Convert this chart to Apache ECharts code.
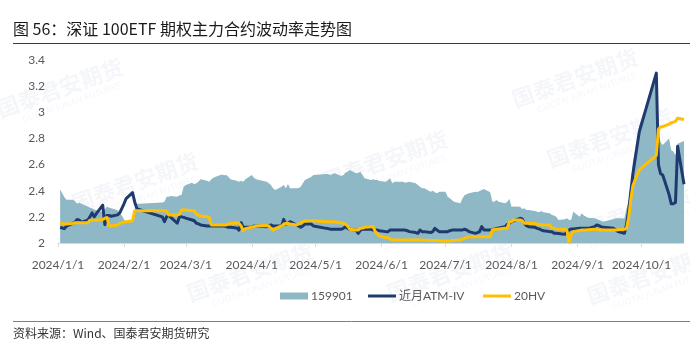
<!DOCTYPE html>
<html>
<head>
<meta charset="utf-8">
<title>深证100ETF期权主力合约波动率走势图</title>
<script src="https://cdn.jsdelivr.net/npm/echarts@6/dist/echarts.min.js"></script>
<style>
  html, body { margin: 0; padding: 0; background: #ffffff; }
  #chart { width: 690px; height: 346px; }
</style>
</head>
<body>
<div id="chart"></div>
<script>
// Trading days, Jan 2 – Oct 21, 2024
const tradeDates = [
  '2024-01-02','2024-01-03','2024-01-04','2024-01-05','2024-01-08','2024-01-09','2024-01-10','2024-01-11','2024-01-12','2024-01-15','2024-01-16','2024-01-17','2024-01-18','2024-01-19','2024-01-22','2024-01-23','2024-01-24','2024-01-25','2024-01-26','2024-01-29','2024-01-30','2024-01-31',
  '2024-02-01','2024-02-02','2024-02-05','2024-02-06','2024-02-07','2024-02-08','2024-02-19','2024-02-20','2024-02-21','2024-02-22','2024-02-23','2024-02-26','2024-02-27','2024-02-28','2024-02-29',
  '2024-03-01','2024-03-04','2024-03-05','2024-03-06','2024-03-07','2024-03-08','2024-03-11','2024-03-12','2024-03-13','2024-03-14','2024-03-15','2024-03-18','2024-03-19','2024-03-20','2024-03-21','2024-03-22','2024-03-25','2024-03-26','2024-03-27','2024-03-28','2024-03-29',
  '2024-04-01','2024-04-02','2024-04-03','2024-04-08','2024-04-09','2024-04-10','2024-04-11','2024-04-12','2024-04-15','2024-04-16','2024-04-17','2024-04-18','2024-04-19','2024-04-22','2024-04-23','2024-04-24','2024-04-25','2024-04-26','2024-04-29','2024-04-30',
  '2024-05-06','2024-05-07','2024-05-08','2024-05-09','2024-05-10','2024-05-13','2024-05-14','2024-05-15','2024-05-16','2024-05-17','2024-05-20','2024-05-21','2024-05-22','2024-05-23','2024-05-24','2024-05-27','2024-05-28','2024-05-29','2024-05-30','2024-05-31',
  '2024-06-03','2024-06-04','2024-06-05','2024-06-06','2024-06-07','2024-06-11','2024-06-12','2024-06-13','2024-06-14','2024-06-17','2024-06-18','2024-06-19','2024-06-20','2024-06-21','2024-06-24','2024-06-25','2024-06-26','2024-06-27','2024-06-28',
  '2024-07-01','2024-07-02','2024-07-03','2024-07-04','2024-07-05','2024-07-08','2024-07-09','2024-07-10','2024-07-11','2024-07-12','2024-07-15','2024-07-16','2024-07-17','2024-07-18','2024-07-19','2024-07-22','2024-07-23','2024-07-24','2024-07-25','2024-07-26','2024-07-29','2024-07-30','2024-07-31',
  '2024-08-01','2024-08-02','2024-08-05','2024-08-06','2024-08-07','2024-08-08','2024-08-09','2024-08-12','2024-08-13','2024-08-14','2024-08-15','2024-08-16','2024-08-19','2024-08-20','2024-08-21','2024-08-22','2024-08-23','2024-08-26','2024-08-27','2024-08-28','2024-08-29','2024-08-30',
  '2024-09-02','2024-09-03','2024-09-04','2024-09-05','2024-09-06','2024-09-09','2024-09-10','2024-09-11','2024-09-12','2024-09-13','2024-09-18','2024-09-19','2024-09-20','2024-09-23','2024-09-24','2024-09-25','2024-09-26','2024-09-27','2024-09-30',
  '2024-10-08','2024-10-09','2024-10-10','2024-10-11','2024-10-14','2024-10-15','2024-10-16','2024-10-17','2024-10-18','2024-10-21'
];

// 159901 closing price
const etfClose = [
  2.41,2.38,2.35,2.33,2.33,2.32,2.30,2.31,2.30,2.28,2.27,2.265,2.256,2.25,2.24,2.256,2.28,2.27,2.265,2.25,2.23,2.21,
  2.18,2.165,2.16,2.24,2.30,2.30,2.31,2.316,2.354,2.354,2.36,2.354,2.365,2.367,2.43,
  2.444,2.461,2.45,2.457,2.47,2.487,2.477,2.469,2.487,2.50,2.507,2.525,2.518,2.52,2.507,2.487,2.477,2.469,2.477,2.469,2.487,
  2.52,2.50,2.487,2.469,2.457,2.444,2.418,2.405,2.431,2.444,2.418,2.451,2.418,2.418,2.42,2.431,2.457,2.482,2.507,2.52,
  2.528,2.526,2.52,2.528,2.533,2.513,2.52,2.538,2.546,2.559,2.533,2.538,2.546,2.52,2.495,2.482,2.487,2.482,2.482,2.475,
  2.469,2.482,2.495,2.457,2.469,2.469,2.461,2.465,2.469,2.457,2.444,2.431,2.418,2.418,2.393,2.40,2.388,2.38,2.393,
  2.393,2.354,2.342,2.329,2.316,2.304,2.342,2.367,2.372,2.38,2.393,2.39,2.398,2.405,2.413,2.388,2.316,2.318,2.329,2.316,2.304,2.316,2.336,
  2.278,2.28,2.278,2.26,2.265,2.252,2.252,2.245,2.24,2.235,2.245,2.235,2.227,2.214,2.21,2.201,2.176,2.181,2.189,2.176,2.176,2.24,
  2.201,2.227,2.21,2.201,2.194,2.189,2.184,2.176,2.17,2.163,2.184,2.189,2.189,2.189,2.265,2.316,2.393,2.62,2.90,
  3.27,2.85,2.77,2.75,2.80,2.71,2.70,2.67,2.76,2.78
];

// Front-month ATM implied volatility
const atmIV = [
  2.12,2.115,2.11,2.13,2.15,2.16,2.18,2.175,2.16,2.175,2.20,2.23,2.20,2.225,2.29,2.14,2.21,2.21,2.205,2.215,2.23,2.265,
  2.30,2.34,2.385,2.316,2.265,2.256,2.20,2.163,2.20,2.214,2.196,2.151,2.20,2.20,2.196,
  2.19,2.176,2.17,2.151,2.146,2.138,2.13,2.13,2.13,2.13,2.13,2.13,2.13,2.125,2.12,2.12,2.115,2.099,2.155,2.12,2.12,
  2.12,2.13,2.13,2.125,2.13,2.138,2.13,2.13,2.13,2.181,2.145,2.15,2.163,2.138,2.13,2.12,2.13,2.145,2.145,2.13,
  2.112,2.11,2.105,2.105,2.105,2.105,2.112,2.125,2.112,2.105,2.099,2.074,2.099,2.105,2.105,2.105,2.099,2.099,2.099,2.094,
  2.087,2.087,2.099,2.099,2.099,2.099,2.099,2.094,2.087,2.08,2.074,2.099,2.087,2.087,2.08,2.087,2.112,2.099,2.087,
  2.087,2.087,2.094,2.099,2.099,2.10,2.10,2.105,2.099,2.087,2.074,2.08,2.087,2.125,2.10,2.10,2.099,2.108,2.112,2.115,2.125,2.143,2.15,
  2.163,2.17,2.189,2.184,2.15,2.133,2.125,2.12,2.112,2.108,2.099,2.094,2.087,2.087,2.074,2.074,2.072,2.066,2.082,2.099,2.108,2.108,
  2.112,2.112,2.112,2.112,2.112,2.125,2.138,2.133,2.125,2.12,2.112,2.099,2.087,2.074,2.14,2.25,2.39,2.53,2.85,
  3.30,2.60,2.53,2.52,2.37,2.30,2.30,2.31,2.74,2.45
];

// 20-day historical volatility
const hv20 = [
  2.155,2.15,2.145,2.145,2.15,2.155,2.155,2.155,2.155,2.155,2.175,2.175,2.175,2.175,2.18,2.19,2.195,2.13,2.13,2.138,2.15,2.155,
  2.16,2.163,2.17,2.247,2.247,2.247,2.247,2.247,2.245,2.214,2.214,2.214,2.22,2.252,2.252,
  2.252,2.247,2.247,2.22,2.214,2.207,2.201,2.196,2.138,2.138,2.138,2.138,2.138,2.138,2.145,2.15,2.155,2.15,2.13,2.094,2.11,
  2.12,2.125,2.13,2.133,2.13,2.11,2.099,2.11,2.13,2.145,2.15,2.15,2.145,2.138,2.145,2.155,2.163,2.168,2.17,2.17,
  2.163,2.163,2.163,2.163,2.163,2.155,2.15,2.145,2.13,2.105,2.10,2.099,2.112,2.115,2.12,2.125,2.125,2.087,2.07,2.055,
  2.04,2.04,2.03,2.023,2.023,2.023,2.023,2.023,2.023,2.023,2.023,2.023,2.023,2.022,2.02,2.02,2.02,2.02,2.015,
  2.015,2.015,2.015,2.02,2.02,2.023,2.03,2.036,2.044,2.048,2.048,2.048,2.048,2.048,2.048,2.048,2.099,2.105,2.105,2.108,2.112,2.115,2.163,
  2.163,2.176,2.176,2.17,2.151,2.151,2.151,2.15,2.145,2.14,2.14,2.138,2.138,2.112,2.112,2.108,2.105,2.105,2.099,2.005,2.061,2.087,
  2.095,2.099,2.10,2.10,2.102,2.105,2.105,2.10,2.10,2.10,2.10,2.10,2.102,2.105,2.11,2.19,2.33,2.44,2.56,
  2.67,2.87,2.89,2.89,2.91,2.92,2.925,2.93,2.955,2.945
];

// Month-start tick labels on the date axis
const monthTicks = ['2024-01-01','2024-02-01','2024-03-01','2024-04-01','2024-05-01','2024-06-01','2024-07-01','2024-08-01','2024-09-01','2024-10-01'];

const seriesNames = ['159901', '近月ATM-IV', '20HV'];

function toTime(s) {
  const p = s.split('-').map(Number);
  return new Date(p[0], p[1] - 1, p[2]).getTime();
}
function pairs(values) {
  return tradeDates.map((d, i) => [toTime(d), values[i]]);
}

const COLOR_AREA = '#8fb8c7';
const COLOR_IV = '#1f3a6e';
const COLOR_HV = '#ffc000';
const LABEL_FONT = 'Lato, "Noto Sans CJK SC", sans-serif';
const CJK_FONT = '"Noto Sans CJK SC", sans-serif';

// faint company watermark, tiled and tilted
const markSpots = [[60, 88], [135, 182], [385, 160], [575, 78], [610, 138], [628, 215], [250, 272], [450, 272], [650, 275]];
const markInk = 'rgba(200,212,228,0.2)';
const watermarks = markSpots.map(([x, y]) => ({
  type: 'group',
  x: x, y: y,
  rotation: 0.34,
  silent: true,
  children: [
    { type: 'text', style: { text: '国泰君安期货', x: 0, y: 0, align: 'center', verticalAlign: 'middle',
      font: 'bold 22px "Noto Sans CJK SC"', fill: markInk } },
    { type: 'text', style: { text: 'GUOTAI JUNAN FUTURES', x: 6, y: 18, align: 'center', verticalAlign: 'middle',
      font: '9px "Open Sans"', fill: markInk } }
  ]
}));

const chart = echarts.init(document.getElementById('chart'), null, { renderer: 'canvas' });

const legendBase = {
  orient: 'horizontal',
  top: 290,
  padding: 0,
  itemGap: 0,
  icon: 'rect',
  itemWidth: 28,
  selectedMode: false,
  textStyle: { color: '#595959', fontSize: 12, fontFamily: LABEL_FONT, padding: [0, 0, 0, -2] }
};

const tickTimes = monthTicks.map(toTime);

chart.setOption({
  animation: false,
  backgroundColor: '#ffffff',
  grid: { left: 58, right: 6, top: 60, bottom: 103, containLabel: false },
  legend: [
    Object.assign({}, legendBase, { left: 280, itemHeight: 7, data: [seriesNames[0]] }),
    Object.assign({}, legendBase, { left: 368, itemHeight: 3, data: [seriesNames[1]] }),
    Object.assign({}, legendBase, { left: 483, itemHeight: 3, data: [seriesNames[2]] })
  ],
  xAxis: {
    // linear calendar scale, measured in milliseconds
    type: 'value',
    min: toTime('2024-01-01'),
    max: toTime('2024-10-21'),
    axisLine: { show: true, onZero: false, lineStyle: { color: '#d9d9d9', width: 1 } },
    axisTick: { show: true, customValues: tickTimes, length: 4, lineStyle: { color: '#d9d9d9' } },
    axisLabel: {
      customValues: tickTimes,
      showMinLabel: true, showMaxLabel: true,
      color: '#595959', fontSize: 12, fontFamily: LABEL_FONT, margin: 16,
      formatter: function (v) {
        const d = new Date(v);
        return d.getFullYear() + '/' + (d.getMonth() + 1) + '/' + d.getDate();
      }
    },
    splitLine: { show: false }
  },
  yAxis: {
    type: 'value',
    min: 2, max: 3.4, interval: 0.2,
    axisLine: { show: false },
    axisTick: { show: false },
    splitLine: { show: false },
    axisLabel: {
      color: '#595959', fontSize: 12, fontFamily: LABEL_FONT, margin: 13,
      formatter: v => String(+v.toFixed(1))
    }
  },
  graphic: watermarks.concat([
    { type: 'text', left: 13, top: 21, silent: true,
      style: { text: '图 56：深证 100ETF 期权主力合约波动率走势图', font: '16px ' + CJK_FONT, fill: '#1a1a1a' } },
    { type: 'line', silent: true, shape: { x1: 13, y1: 43.5, x2: 690, y2: 43.5 },
      style: { stroke: '#3a3a3a', lineWidth: 1.2 } },
    { type: 'line', silent: true, shape: { x1: 13, y1: 321.5, x2: 690, y2: 321.5 },
      style: { stroke: '#7f7f7f', lineWidth: 1 } },
    { type: 'text', left: 13, top: 327, silent: true,
      style: { text: '资料来源：Wind、国泰君安期货研究', font: '12px ' + CJK_FONT, fill: '#333333' } }
  ]),
  series: [
    {
      name: seriesNames[0], type: 'line', data: pairs(etfClose),
      symbol: 'none', showSymbol: false, z: 2,
      lineStyle: { width: 0, color: COLOR_AREA },
      itemStyle: { color: COLOR_AREA },
      areaStyle: { color: COLOR_AREA, opacity: 1, origin: 'start' }
    },
    {
      name: seriesNames[1], type: 'line', data: pairs(atmIV),
      symbol: 'none', showSymbol: false, z: 3,
      lineStyle: { width: 3, color: COLOR_IV, join: 'round' },
      itemStyle: { color: COLOR_IV }
    },
    {
      name: seriesNames[2], type: 'line', data: pairs(hv20),
      symbol: 'none', showSymbol: false, z: 4,
      lineStyle: { width: 3, color: COLOR_HV, join: 'round' },
      itemStyle: { color: COLOR_HV }
    }
  ]
});
</script>
</body>
</html>
